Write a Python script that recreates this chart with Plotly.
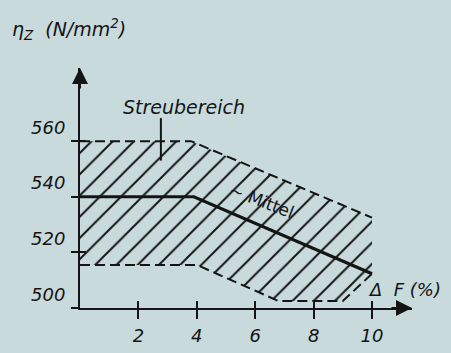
import plotly.graph_objects as go

# ---- data ----
band_upper_x = [0, 3.8, 10]
band_upper_y = [560, 560, 532.5]
band_lower_x = [0, 4.0, 6.8, 9.0, 10]
band_lower_y = [515.5, 515.5, 502.5, 502.5, 512.3]
mittel_x = [0, 3.9, 10]
mittel_y = [540, 540, 512.3]
x_ticks = [2, 4, 6, 8, 10]
y_ticks = [500, 520, 540, 560]

BG = "#c8dadb"
INK = "#141414"
FONT = "DejaVu Sans"

fig = go.Figure()

# hatched scatter band (Streubereich)
poly_x = band_upper_x + band_lower_x[::-1]
poly_y = band_upper_y + band_lower_y[::-1]
fig.add_trace(go.Scatter(
    x=poly_x, y=poly_y, mode="lines", fill="toself",
    line=dict(width=0, color="rgba(0,0,0,0)"),
    fillcolor="rgba(0,0,0,0)",
    fillpattern=dict(shape="/", size=15, solidity=0.13, fgcolor=INK, fgopacity=1,
                     bgcolor="rgba(0,0,0,0)"),
    hoverinfo="skip", showlegend=False))

# band boundaries (dashed)
fig.add_trace(go.Scatter(x=band_upper_x, y=band_upper_y, mode="lines",
                         line=dict(color=INK, width=2, dash="10px,5px"),
                         showlegend=False, hoverinfo="skip"))
fig.add_trace(go.Scatter(x=band_lower_x, y=band_lower_y, mode="lines",
                         line=dict(color=INK, width=2, dash="10px,5px"),
                         showlegend=False, hoverinfo="skip"))

# mean line (Mittel)
fig.add_trace(go.Scatter(x=mittel_x, y=mittel_y, mode="lines",
                         line=dict(color=INK, width=3.2),
                         showlegend=False, hoverinfo="skip"))

# dummy trace for overlay axis (inside tick parts)
fig.add_trace(go.Scatter(x=[None], y=[None], xaxis="x2", yaxis="y2",
                         showlegend=False, hoverinfo="skip"))

XR = [0, 11.37]
YR = [500, 586.3]
tickfont = dict(family=FONT, size=18, color=INK, style="italic")

fig.update_layout(
    width=451, height=353,
    margin=dict(l=80, r=39, t=68, b=45, autoexpand=False),
    paper_bgcolor=BG, plot_bgcolor=BG,
    xaxis=dict(range=XR, tickvals=x_ticks, ticks="outside", ticklen=9, tickwidth=2,
               tickcolor=INK, showline=True, linewidth=2, linecolor=INK,
               showgrid=False, zeroline=False, tickfont=tickfont, fixedrange=True,
               ticklabelstandoff=1, automargin=False),
    yaxis=dict(range=YR, tickvals=y_ticks, ticks="outside", ticklen=7, tickwidth=2,
               tickcolor=INK, showline=True, linewidth=2, linecolor=INK,
               showgrid=False, zeroline=False, tickfont=tickfont,
               ticklabelposition="outside top", ticklabelstandoff=9, fixedrange=True,
               automargin=False),
    xaxis2=dict(range=XR, overlaying="x", anchor="y2", side="bottom",
                tickvals=x_ticks, ticks="inside", ticklen=7, tickwidth=2, tickcolor=INK,
                showticklabels=False, showline=False, showgrid=False, zeroline=False,
                automargin=False),
    yaxis2=dict(range=YR, overlaying="y", anchor="x2", side="left",
                tickvals=y_ticks[1:], ticks="inside", ticklen=6, tickwidth=2, tickcolor=INK,
                showticklabels=False, showline=False, showgrid=False, zeroline=False,
                automargin=False),
    showlegend=False,
)

def px2paper(px, py):
    return (px - 80) / 332.0, (308 - py) / 240.0

annos = []
# axis arrows
annos.append(dict(xref="paper", yref="paper", x=1.0, y=0.0, ax=-22, ay=0, text="",
                  showarrow=True, arrowhead=2, arrowsize=1.6, arrowwidth=2, arrowcolor=INK))
annos.append(dict(xref="paper", yref="paper", x=0.0, y=1.0, ax=0, ay=22, text="",
                  showarrow=True, arrowhead=2, arrowsize=1.6, arrowwidth=2, arrowcolor=INK))
# y title
x, y = px2paper(10, 30)
annos.append(dict(xref="paper", yref="paper", x=x, y=y, xanchor="left", yanchor="middle",
                  text="η<sub>Z</sub>  (N/mm<sup>2</sup>)", showarrow=False,
                  font=dict(family=FONT, size=19, color=INK, style="italic")))
# x title
x, y = px2paper(366, 289)
annos.append(dict(xref="paper", yref="paper", x=x, y=y, xanchor="left", yanchor="middle",
                  text="Δ  F (%)", showarrow=False,
                  font=dict(family=FONT, size=18, color=INK, style="italic")))
# Streubereich label
x, y = px2paper(184, 107)
annos.append(dict(xref="paper", yref="paper", x=x, y=y, xanchor="center", yanchor="middle",
                  text="Streubereich", showarrow=False,
                  font=dict(family=FONT, size=19, color=INK, style="italic")))
# Mittel label
x, y = px2paper(262, 201)
annos.append(dict(xref="paper", yref="paper", x=x, y=y, xanchor="center", yanchor="middle",
                  text="~ Mittel", textangle=21, showarrow=False,
                  font=dict(family=FONT, size=17, color=INK)))
fig.update_layout(annotations=annos)

# leader line from label to band
fig.add_shape(type="line", xref="x", yref="y", x0=2.77, x1=2.77, y0=568.3, y1=553.0,
              line=dict(color=INK, width=2))

fig.write_html("out.html")
